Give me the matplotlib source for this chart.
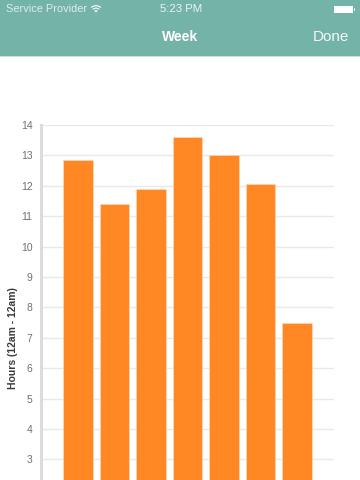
import matplotlib
matplotlib.use("Agg")
import matplotlib.pyplot as plt
from matplotlib.patches import Rectangle, Wedge

days = [0, 1, 2, 3, 4, 5, 6]
hours = [12.86, 11.4, 11.9, 13.62, 13.02, 12.07, 7.5]
yticks = list(range(3, 15))
ylabel = "Hours (12am - 12am)"
title = "Week"
done = "Done"
carrier = "Service Provider"
clock = "5:23 PM"

W, H = 360, 480
plt.rcParams['font.family'] = ['Liberation Sans', 'DejaVu Sans']
fig = plt.figure(figsize=(W/100, H/100), dpi=100, facecolor='white')

def fx(x): return x / W
def fy(y): return 1 - y / H

ax = fig.add_axes([fx(41), 0, (334-41)/W, fy(125)])
ax.bar(days, hours, width=0.8, color='#FF8724', edgecolor='#FFD9B5', linewidth=0.5, zorder=3)
ax.set_xlim(-1.014, 7.014)
ax.set_ylim(14 - 355/30.4, 14)
ax.set_yticks(yticks)
ax.set_xticks([])
ax.yaxis.grid(True, color='#E9E9E9', linewidth=1.0, zorder=0)
ax.set_axisbelow(True)
for s in ['top', 'right', 'bottom']:
    ax.spines[s].set_visible(False)
ax.spines['left'].set_color('#DCDCDC')
ax.spines['left'].set_linewidth(2.2)
ax.tick_params(axis='y', length=0, pad=6, labelsize=7.5, labelcolor='#707070')
fig.text(fx(13), fy(338), ylabel, rotation=90, ha='center', va='center',
         fontsize=7.5, color='#3A3A3A', fontweight='bold')

# Navigation bar
fig.add_artist(Rectangle((0, fy(56)), 1, 56/H, transform=fig.transFigure, color='#74B3A8', lw=0))
fig.add_artist(Rectangle((0, fy(57)), 1, 1/H, transform=fig.transFigure, color='#D8D8D8', lw=0))
fig.text(fx(6), fy(9.5), carrier, ha='left', va='center', fontsize=7.9, color='#DCEEEA')
fig.text(fx(160), fy(9.5), clock, ha='left', va='center', fontsize=8.2, color='#EAF5F2')
fig.text(fx(180), fy(37), title, ha='center', va='center', fontsize=10, color='white', fontweight='bold')
fig.text(fx(349), fy(37), done, ha='right', va='center', fontsize=11, color='#F2F9F7')

# Wifi and battery icons sit above the bar
overlay = fig.add_axes([0, 0, 1, 1], facecolor='none')
overlay.set_zorder(5)
overlay.set_xlim(0, W)
overlay.set_ylim(0, H)
overlay.axis('off')
base = H - 12.5
for r, w in [(7.5, 1.3), (5, 1.3)]:
    overlay.add_patch(Wedge((96, base), r, 45, 135, width=w, color='#EAF5F2', lw=0))
overlay.add_patch(Wedge((96, base), 2.4, 45, 135, color='#EAF5F2', lw=0))
overlay.add_patch(Rectangle((334, H - 13), 19, 7, color='white', lw=0))
overlay.add_patch(Rectangle((353.5, H - 11), 1.2, 3, color='#DCEEEA', lw=0))

fig.savefig('out.png', dpi=100)
